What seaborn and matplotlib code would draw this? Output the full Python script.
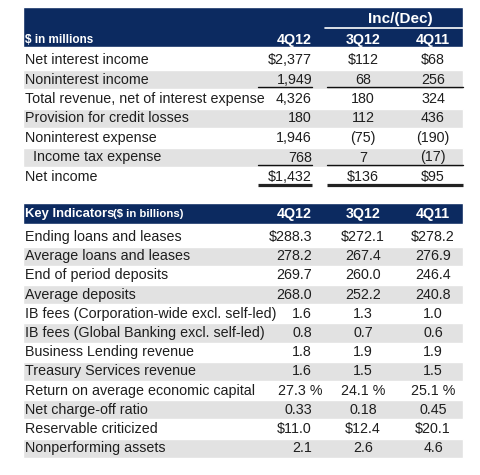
import matplotlib.pyplot as plt
import seaborn as sns

# ---- data -------------------------------------------------------------
periods = ["4Q12", "3Q12", "4Q11"]

income_labels = [
    "Net interest income",
    "Noninterest income",
    "Total revenue, net of interest expense",
    "Provision for credit losses",
    "Noninterest expense",
    "  Income tax expense",
    "Net income",
]
income_4q12 = ["$2,377", "1,949", "4,326", "180", "1,946", "768", "$1,432"]
income_3q12 = ["$112", "68", "180", "112", "(75)", "7", "$136"]
income_4q11 = ["$68", "256", "324", "436", "(190)", "(17)", "$95"]

key_labels = [
    "Ending loans and leases",
    "Average loans and leases",
    "End of period deposits",
    "Average deposits",
    "IB fees (Corporation-wide excl. self-led)",
    "IB fees (Global Banking excl. self-led)",
    "Business Lending revenue",
    "Treasury Services revenue",
    "Return on average economic capital",
    "Net charge-off ratio",
    "Reservable criticized",
    "Nonperforming assets",
]
key_4q12 = ["$288.3", "278.2", "269.7", "268.0", "1.6", "0.8", "1.8", "1.6",
            "27.3 %", "0.33", "$11.0", "2.1"]
key_3q12 = ["$272.1", "267.4", "260.0", "252.2", "1.3", "0.7", "1.9", "1.5",
            "24.1 %", "0.18", "$12.4", "2.6"]
key_4q11 = ["$278.2", "276.9", "246.4", "240.8", "1.0", "0.6", "1.9", "1.5",
            "25.1 %", "0.45", "$20.1", "4.6"]

# ---- style ------------------------------------------------------------
sns.set_theme(style="white")
plt.rcParams["font.family"] = ["Liberation Sans", "DejaVu Sans"]

NAVY = "#0c2a60"
SHADE = "#e2e2e2"
TEXT = "#1e1e1e"
LEFT, RIGHT = 23, 463
X_LABEL = 25
X_COL1 = 312   # right aligned
X_COL2 = 363   # centered
X_COL3 = 433   # centered
SIZE = 10.3

fig = plt.figure(figsize=(4.8, 4.75), dpi=100)
ax = fig.add_axes([0, 0, 1, 1])
ax.set_xlim(0, 480)
ax.set_ylim(475, 0)
ax.axis("off")


def draw_block(ax, labels, c1, c2, c3, y0, pitch, size=SIZE):
    ys = [y0 + i * pitch for i in range(len(labels))]
    shaded = [y for i, y in enumerate(ys) if i % 2 == 1]
    ax.barh(shaded, RIGHT - LEFT, left=LEFT, height=pitch, color=SHADE, zorder=0)
    for y, lab, a, b, c in zip(ys, labels, c1, c2, c3):
        ax.text(X_LABEL, y, lab, fontsize=size, color=TEXT, va="center", ha="left")
        # percentages stick out a little to the right in the original
        x1 = X_COL1 + 10 if a.endswith("%") else X_COL1
        ax.text(x1, y, a, fontsize=size, color=TEXT, va="center", ha="right")
        ax.text(X_COL2, y, b, fontsize=size, color=TEXT, va="center", ha="center")
        ax.text(X_COL3, y, c, fontsize=size, color=TEXT, va="center", ha="center")
    return ys


def column_headers(ax, y):
    ax.text(X_COL1, y, periods[0], fontsize=10.3, color="white", fontweight="bold",
            va="center", ha="right")
    ax.text(X_COL2, y, periods[1], fontsize=10.3, color="white", fontweight="bold",
            va="center", ha="center")
    ax.text(X_COL3, y, periods[2], fontsize=10.3, color="white", fontweight="bold",
            va="center", ha="center")


# ---- top table --------------------------------------------------------
ax.barh([27], RIGHT - LEFT, left=LEFT, height=40, color=NAVY, zorder=1)
ax.text(400, 19, "Inc/(Dec)", fontsize=11, color="white", fontweight="bold",
        va="center", ha="center", zorder=2)
ax.plot([325, RIGHT], [28, 28], color="white", lw=1.2, zorder=2)
ax.text(X_LABEL, 40, "$ in millions", fontsize=8.5, color="white",
        fontweight="bold", va="center", ha="left", zorder=2)
column_headers(ax, 40)

ys = draw_block(ax, income_labels, income_4q12, income_3q12, income_4q11, 60, 19.5)

for y in (ys[1] + 7.5, ys[5] + 7):
    ax.plot([258, X_COL1], [y, y], color="#111111", lw=1.0)
    ax.plot([327, RIGHT], [y, y], color="#111111", lw=1.0)
yb = ys[6] + 7.5
ax.plot([258, X_COL1], [yb, yb], color="#222222", lw=2.3, solid_capstyle="butt")
ax.plot([327, RIGHT], [yb, yb], color="#222222", lw=2.3, solid_capstyle="butt")

# ---- key indicators ---------------------------------------------------
ax.barh([213.5], RIGHT - LEFT, left=LEFT, height=21, color=NAVY, zorder=1)
ax.text(X_LABEL, 214, "Key Indicators", fontsize=9.4, color="white",
        fontweight="bold", va="center", ha="left", zorder=2)
ax.text(113, 214, "($ in billions)", fontsize=8.2, color="white",
        fontweight="bold", va="center", ha="left", zorder=2)
column_headers(ax, 214)

draw_block(ax, key_labels, key_4q12, key_3q12, key_4q11, 237, 19.2)

fig.savefig("out.png", dpi=100, facecolor="white")
